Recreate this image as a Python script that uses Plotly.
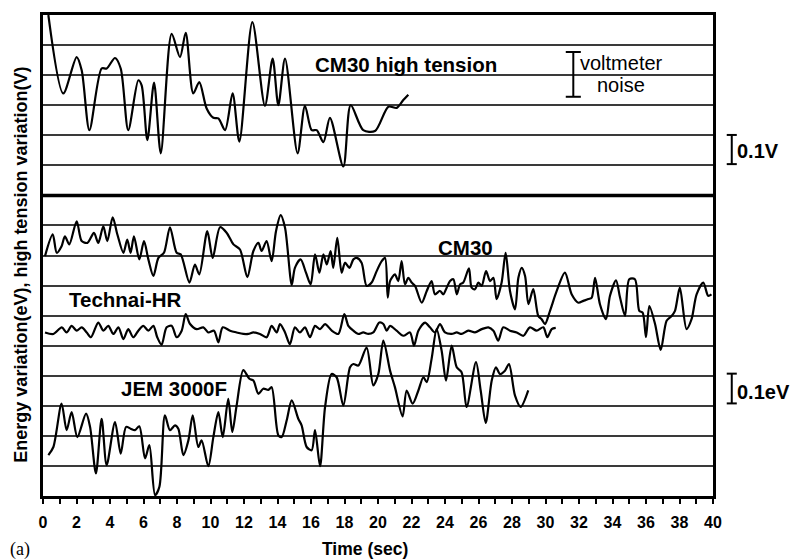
import plotly.graph_objects as go

# ---- data (y in grid units: 1 unit = 0.1 V for top panel, 0.1 eV for bottom panel) ----
t_hv = [0.32, 1.21, 2.01, 2.31, 2.77, 3.50, 3.80, 4.30, 4.64, 5.09, 5.69, 5.89, 6.23, 6.63, 7.03,
        7.68, 8.18, 8.52, 8.97, 9.33, 9.77, 10.17, 10.47, 10.87, 11.32, 11.72, 12.50, 13.25, 13.71,
        14.05, 14.45, 15.20, 15.64, 16.04, 16.34, 16.74, 17.13, 17.93, 18.37, 19.12, 19.82, 20.62,
        21.12, 21.51, 21.81]
v_hv = [16.0, 13.39, 14.60, 14.16, 12.17, 14.22, 14.22, 14.57, 14.22, 12.17, 13.83, 13.66, 11.84,
        13.75, 11.40, 15.37, 14.60, 15.41, 13.39, 13.77, 12.89, 12.58, 12.56, 12.17, 13.39, 11.79,
        15.76, 12.98, 14.55, 13.00, 14.55, 11.40, 12.98, 12.17, 12.17, 11.77, 12.58, 10.96, 13.00,
        12.17, 12.14, 12.95, 12.91, 13.17, 13.35]

t_cm30 = [0.12, 0.58, 0.82, 1.11, 1.31, 1.57, 2.01, 2.31, 2.65, 3.04, 3.30, 3.60, 3.84, 4.16, 4.44,
          4.80, 5.03, 5.23, 5.43, 5.75, 6.03, 6.29, 6.59, 6.89, 7.22, 7.58, 7.98, 8.22, 8.74, 9.07,
          9.33, 9.81, 10.13, 10.57, 10.97, 11.37, 11.76, 12.20, 12.56, 12.86, 13.05, 13.35, 13.65,
          13.91, 14.19, 14.45, 14.85, 15.04, 15.38, 15.70, 15.98, 16.24, 16.50, 16.74, 16.94, 17.17,
          17.33, 17.57, 17.83, 18.03, 18.29, 18.53, 18.73, 19.02, 19.32, 19.62, 19.92, 20.22, 20.42,
          20.58,
          20.72, 21.01, 21.21, 21.41, 21.61, 21.81, 22.01, 22.21, 22.61, 22.91, 23.20, 23.40, 23.70,
          23.90, 24.10, 24.30, 24.50, 24.70, 24.90, 25.09, 25.43, 25.59, 25.79, 25.99, 26.19, 26.45,
          26.69, 26.89, 27.08, 27.38, 27.62, 27.88, 28.18, 28.38, 28.58, 28.78, 28.98, 29.27, 29.57,
          29.77, 29.97, 30.27, 30.67, 31.16, 31.56, 31.96, 32.26, 32.56, 32.76, 32.96, 33.25, 33.61,
          33.85, 34.21, 34.45, 34.75, 35.00, 35.34, 35.60, 35.80, 36.00, 36.20, 36.54, 36.88, 37.23,
          37.53, 37.73, 38.02, 38.42, 38.72, 39.02, 39.42, 39.71, 39.91]
e_cm30 = [7.98, 8.70, 8.09, 8.31, 8.64, 8.37, 9.14, 8.48, 8.42, 8.75, 8.42, 8.97, 8.48, 9.27, 8.70,
          8.09, 8.53, 8.09, 8.64, 7.87, 8.48, 7.87, 7.32, 7.92, 8.09, 8.94, 8.09, 8.04, 7.10, 7.70,
          7.37, 8.81, 7.92, 8.94, 8.75, 8.37, 8.20, 7.28, 8.15, 8.42, 8.15, 8.48, 7.81, 8.81, 9.34,
          8.92, 7.02, 7.59, 7.87, 7.43, 7.04, 8.04, 7.43, 8.04, 7.70, 8.15, 7.59, 8.59, 7.43, 7.76,
          7.59, 7.87, 7.92, 7.76, 6.99, 7.10, 7.48, 7.81, 7.92, 6.60,
          7.15, 7.37, 7.15, 7.81, 7.04, 7.26, 7.10, 6.99, 6.43, 6.82, 7.15, 6.71, 6.82, 6.71, 6.93,
          7.15, 7.21, 6.71, 7.04, 7.10, 7.57, 6.93, 6.88, 7.10, 6.99, 7.48, 7.15, 7.26, 6.55, 7.10,
          8.09, 6.82, 6.21, 7.26, 7.59, 7.32, 6.38, 6.88, 5.99, 5.88, 5.72, 6.16, 6.82, 7.43, 6.71,
          6.43, 6.49, 6.55, 6.60, 7.26, 6.38, 5.88, 6.66, 7.17, 6.60, 5.99, 7.21, 7.21, 6.16, 6.10,
          5.28, 6.32, 5.72, 4.86, 5.83, 5.99, 6.16, 6.93, 5.55, 5.88, 6.71, 7.10, 6.66, 6.71]

t_tec = [0.12, 0.62, 1.12, 1.41, 1.71, 2.01, 2.31, 2.61, 2.86, 3.30, 3.60, 3.90, 4.20, 4.50, 4.80,
         5.09, 5.39, 5.69, 5.99, 6.29, 6.59, 6.82, 7.08, 7.38, 7.68, 7.98, 8.28, 8.52, 8.78, 9.17,
         9.57, 9.87, 10.21, 10.47, 10.73, 11.17, 11.56, 11.96, 12.26, 12.56, 12.95, 13.35, 13.65,
         13.95, 14.15, 14.45, 14.74, 15.04, 15.34, 15.64, 15.94, 16.24, 16.54, 16.84, 17.24, 17.63,
         17.99, 18.23, 18.53, 18.82, 19.12, 19.42, 19.72, 20.08, 20.32, 20.52,
         20.72, 21.11, 21.51, 21.91, 22.15, 22.41, 22.81, 23.10, 23.40, 23.70, 24.00, 24.40, 24.70,
         24.99, 25.39, 25.79, 26.19, 26.59, 26.89, 27.18, 27.48, 27.88, 28.28, 28.68, 29.07, 29.47,
         29.87, 30.11, 30.37, 30.61]
e_tec = [5.44, 5.39, 5.61, 5.44, 5.66, 5.50, 5.61, 5.44, 5.28, 5.77, 5.50, 5.66, 5.39, 5.61, 5.22,
         5.55, 5.28, 5.50, 5.66, 5.50, 5.66, 5.28, 5.03, 5.61, 5.66, 5.28, 5.50, 6.05, 5.72, 5.55,
         5.61, 5.44, 5.50, 5.11, 5.61, 5.50, 5.44, 5.39, 5.39, 5.44, 5.39, 5.28, 5.66, 5.44, 5.72,
         5.44, 5.05, 5.61, 5.44, 5.61, 5.28, 5.66, 5.55, 5.72, 5.50, 5.39, 6.05, 5.66, 5.50, 5.39,
         5.44, 5.39, 5.44, 5.77, 5.72, 5.50,
         5.66, 5.50, 5.33, 5.44, 5.00, 5.50, 5.77, 5.61, 5.44, 5.72, 5.44, 5.39, 5.44, 5.39, 5.50,
         5.44, 5.55, 5.61, 5.50, 5.17, 5.61, 5.50, 5.44, 5.33, 5.61, 5.50, 5.61, 5.28, 5.55, 5.59]

t_jem = [0.32, 0.62, 1.11, 1.41, 1.71, 2.05, 2.57, 2.81, 3.16, 3.50, 3.80, 4.30, 4.64, 4.96, 5.23,
         5.49, 5.75, 6.09, 6.35, 6.69, 6.95, 7.28, 7.58, 7.88, 8.08, 8.38, 8.68, 8.94, 9.27, 9.47,
         9.87, 10.17, 10.47, 10.73, 11.06, 11.30, 11.56, 11.96, 12.32, 12.56, 12.86, 13.15, 13.45,
         13.65, 14.05, 14.25, 14.55, 14.85, 15.24, 15.44, 15.74, 16.04, 16.24, 16.54, 16.84, 17.23,
         17.53, 17.93, 18.33, 18.53, 18.83, 19.32, 19.72, 20.02, 20.32,
         20.72, 21.01, 21.47, 21.71, 22.07, 22.41, 22.71, 22.91, 23.20, 23.50, 23.80, 24.06, 24.40,
         24.70, 24.99, 25.29, 25.85, 26.13, 26.43, 26.79, 27.04, 27.28, 27.58, 27.82, 28.18, 28.52,
         28.97]
e_jem = [1.36, 1.63, 3.07, 2.19, 2.79, 1.96, 2.74, 2.30, 0.75, 2.57, 1.03, 2.46, 1.41, 2.30, 2.24,
         2.19, 2.32, 1.25, 1.69, 0.03, 0.31, 2.68, 2.19, 2.35, 2.24, 1.36, 1.85, 2.68, 1.63, 1.85,
         0.99, 1.96, 2.79, 1.96, 3.23, 2.13, 3.01, 4.19, 3.90, 3.84, 3.40, 3.57, 3.53, 3.62, 2.02,
         1.96, 2.52, 3.18, 2.57, 2.35, 1.63, 1.52, 2.19, 0.99, 2.96, 4.06, 3.95, 3.01, 4.28, 4.39,
         4.34, 4.94, 3.68, 4.06, 5.17,
         4.17, 3.62, 2.65, 3.51, 3.07, 3.51, 3.95, 3.79, 4.56, 5.55, 4.83, 3.84, 5.00, 4.28, 4.12,
         2.96, 4.45, 3.51, 2.43, 3.84, 4.28, 4.06, 4.17, 4.39, 3.34, 2.96, 3.51]

x_ticks = list(range(0, 41, 2))

FONT = "Liberation Sans, Arial, sans-serif"
fig = go.Figure()
for tx, ty in [(t_hv, v_hv), (t_cm30, e_cm30), (t_tec, e_tec), (t_jem, e_jem)]:
    fig.add_trace(go.Scatter(x=tx, y=ty, mode="lines",
                             line=dict(color="black", width=2.2, shape="spline", smoothing=0.8),
                             showlegend=False, hoverinfo="skip"))

fig.update_layout(
    width=791, height=559,
    margin=dict(l=43, r=78, t=13, b=63),
    paper_bgcolor="white", plot_bgcolor="white",
    xaxis=dict(range=[0, 40], tickvals=x_ticks, ticks="outside", ticklen=5, tickwidth=2,
               tickcolor="black", showgrid=False, zeroline=False,
               showline=True, linewidth=2.5, linecolor="black", mirror=True,
               tickfont=dict(family=FONT, size=16, color="black", weight="bold"),
               ticklabelstandoff=5,
               minor=dict(dtick=1, ticks="outside", ticklen=5, tickwidth=2, tickcolor="black")),
    yaxis=dict(range=[0, 16], dtick=1, showticklabels=False, ticks="",
               showgrid=True, gridcolor="#3a3a3a", gridwidth=1.6, zeroline=False,
               showline=True, linewidth=2.5, linecolor="black", mirror=True),
)

# panel divider
fig.add_shape(type="line", xref="paper", yref="y", x0=0, x1=1, y0=10, y1=10,
              line=dict(color="black", width=3.5))

def ibeam(x, y0, y1, half, xref):
    fig.add_shape(type="line", xref=xref, yref="y", x0=x, x1=x, y0=y0, y1=y1,
                  line=dict(color="black", width=2))
    for yy in (y0, y1):
        fig.add_shape(type="line", xref=xref, yref="y", x0=x - half, x1=x + half, y0=yy, y1=yy,
                      line=dict(color="black", width=2))

ibeam(31.66, 13.28, 14.77, 0.45, "x")
ibeam(1.028, 11.04, 12.01, 0.0075, "paper")
ibeam(1.028, 3.08, 4.07, 0.0075, "paper")

def label(text, x, y, size, bold=True, xref="x", yref="y", xanchor="center", family=FONT, angle=0):
    fig.add_annotation(text=text, x=x, y=y, xref=xref, yref=yref, showarrow=False,
                       xanchor=xanchor, yanchor="middle", textangle=angle,
                       font=dict(family=family, size=size, color="black",
                                 weight="bold" if bold else "normal"))

label("CM30 high tension", 21.7, 14.37, 20.5)
label("voltmeter", 34.54, 14.41, 20, bold=False)
label("noise", 34.51, 13.67, 20, bold=False)
label("CM30", 25.24, 8.28, 20.5)
label("Technai-HR", 4.9, 6.52, 20.5)
label("JEM 3000F", 7.85, 3.59, 20.5)
label("0.1V", 1.033, 11.46, 20, xref="paper", xanchor="left")
label("0.1eV", 1.033, 3.45, 20, xref="paper", xanchor="left")
label("Time (sec)", 19.25, -0.110, 17.5, yref="paper")
label("Energy variation(eV), high tension variation(V)", -0.0328, 0.481, 18,
      xref="paper", yref="paper", angle=-90)
label("(a)", -0.034, -0.112, 18, bold=False, xref="paper", yref="paper",
      family="Liberation Serif, Times New Roman, serif")

fig.write_html("out.html")
